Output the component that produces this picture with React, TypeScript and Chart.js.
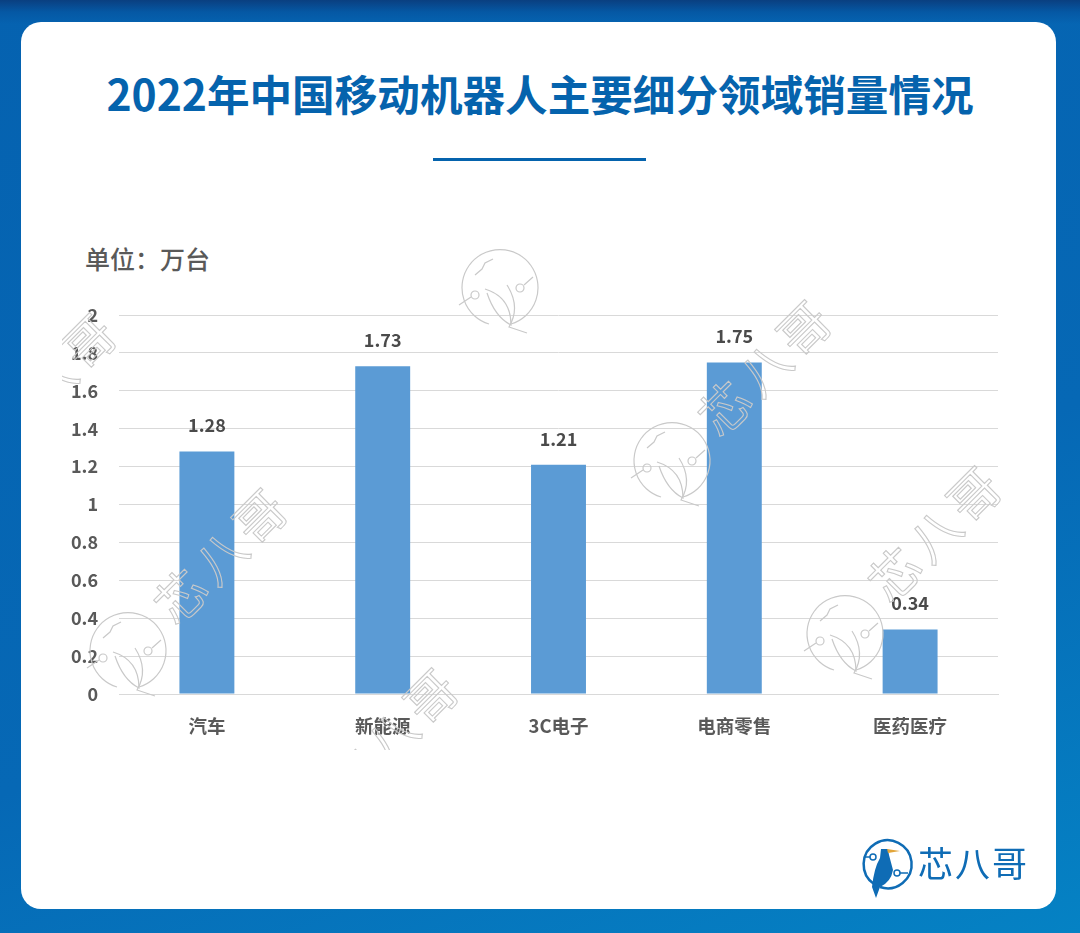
import { useEffect, useRef } from "react";
import { Chart, registerables } from "chart.js";

Chart.register(...registerables);

const categories = ["汽车", "新能源", "3C电子", "电商零售", "医药医疗"];
const salesValues = [1.28, 1.73, 1.21, 1.75, 0.34];
const yTickLabels = ["0", "0.2", "0.4", "0.6", "0.8", "1", "1.2", "1.4", "1.6", "1.8", "2"];
const yMax = 2;
const yStep = 0.2;

const font = '"Noto Sans CJK SC", "Noto Sans", sans-serif';
const barColor = "#5b9bd5";
const brandBlue = "#0563ad";
const logoBlue = "#0f6cb5";

const valueLabels = {
  id: "valueLabels",
  afterDatasetsDraw(chart: Chart) {
    const { ctx } = chart;
    ctx.save();
    ctx.font = `700 18px ${font}`;
    ctx.fillStyle = "#4a4a4a";
    ctx.textAlign = "center";
    ctx.textBaseline = "middle";
    chart.getDatasetMeta(0).data.forEach((bar, i) => {
      ctx.fillText(String(salesValues[i]), bar.x, bar.y - 26);
    });
    ctx.restore();
  },
};

function WatermarkLogo({ x, y }: { x: number; y: number }) {
  return (
    <g transform={`translate(${x} ${y})`} fill="none" stroke="#c9c9c9" strokeWidth="1.2">
      <path d="M14 37 A38 38 0 1 0 -8 37" />
      <circle cx="-22" cy="8" r="4" />
      <circle cx="23" cy="1" r="4" />
      <path d="M-38 18 L-26 10 M27 -2 L36 -10" />
      <path d="M-22 -12 L-15 -18 L-12 -24 L-4 -28" />
      <path d="M-12 2 Q14 10 14 38 Q-2 30 -10 6" />
      <path d="M10 -2 Q24 20 12 40 L30 46" />
    </g>
  );
}

function WatermarkText({ x, y }: { x: number; y: number }) {
  return (
    <text
      transform={`translate(${x} ${y}) rotate(-45)`}
      textAnchor="middle"
      fontFamily={font}
      fontSize="50"
      letterSpacing="6"
      fill="none"
      stroke="#c9c9c9"
      strokeWidth="1.1"
    >
      芯八哥
    </text>
  );
}

export default function App() {
  const canvasRef = useRef<HTMLCanvasElement>(null);

  useEffect(() => {
    if (!canvasRef.current) return;

    const chart = new Chart(canvasRef.current, {
      type: "bar",
      data: {
        labels: categories,
        datasets: [
          {
            data: salesValues,
            backgroundColor: barColor,
            categoryPercentage: 1,
            barPercentage: 0.3125,
          },
        ],
      },
      options: {
        animation: false,
        responsive: false,
        layout: { padding: { left: 19, right: 82, top: 315, bottom: 179 } },
        plugins: { legend: { display: false }, tooltip: { enabled: false } },
        scales: {
          x: {
            grid: { display: false },
            border: { color: "#d9d9d9", width: 1 },
            ticks: {
              color: "#595959",
              font: { family: font, size: 18.5, weight: 700 },
              padding: 13,
              maxRotation: 0,
            },
            afterFit: (scale) => {
              scale.height = 60;
              scale.paddingLeft = 0;
              scale.paddingRight = 0;
            },
          },
          y: {
            min: 0,
            max: yMax,
            grid: { color: "#d9d9d9", drawTicks: false },
            border: { display: false },
            ticks: {
              stepSize: yStep,
              color: "#595959",
              font: { family: font, size: 18, weight: 700 },
              padding: 21,
              callback: (_value, index) => yTickLabels[index],
            },
            afterFit: (scale) => {
              scale.width = 100;
              scale.paddingTop = 0;
              scale.paddingBottom = 0;
            },
          },
        },
      },
      plugins: [valueLabels],
    });

    return () => {
      chart.destroy();
    };
  }, []);

  return (
    <div
      style={{
        position: "absolute",
        left: 0,
        top: 0,
        width: 1080,
        height: 933,
        overflow: "hidden",
        fontFamily: font,
        background:
          "linear-gradient(180deg, #0a3f80 0px, #0558a4 12px, transparent 24px), linear-gradient(160deg, #0562b0 0%, #0668b5 60%, #0582c4 100%)",
      }}
    >
      <div
        style={{
          position: "absolute",
          left: 21,
          top: 22,
          width: 1035,
          height: 887,
          borderRadius: 20,
          background: "#fff",
        }}
      />
      <div
        style={{
          position: "absolute",
          left: 0,
          width: 1080,
          top: 63,
          textAlign: "center",
          fontSize: 42.6,
          lineHeight: "60px",
          fontWeight: 700,
          color: brandBlue,
        }}
      >
        2022年中国移动机器人主要细分领域销量情况
      </div>
      <div
        style={{ position: "absolute", left: 433, top: 158, width: 213, height: 3, background: brandBlue }}
      />
      <div
        style={{
          position: "absolute",
          left: 85,
          top: 240,
          fontSize: 25,
          lineHeight: "36px",
          fontWeight: 500,
          color: "#595959",
        }}
      >
        单位：万台
      </div>
      <canvas ref={canvasRef} width={1080} height={933} style={{ position: "absolute", left: 0, top: 0 }} />
      <svg width={1080} height={933} style={{ position: "absolute", left: 0, top: 0 }}>
        <defs>
          <clipPath id="watermark-area">
            <rect x={62} y={230} width={960} height={520} />
          </clipPath>
        </defs>
        <WatermarkLogo x={125} y={650} />
        <WatermarkLogo x={497} y={287} />
        <WatermarkLogo x={669} y={460} />
        <WatermarkLogo x={842} y={633} />
        <g clipPath="url(#watermark-area)">
          <WatermarkText x={236} y={568} />
          <WatermarkText x={65} y={393} />
          <WatermarkText x={407} y={748} />
          <WatermarkText x={780} y={380} />
          <WatermarkText x={950} y={546} />
        </g>
        <g transform="translate(886 864)">
          <path d="M-12 20 A24 24 0 1 1 -6 23" fill="none" stroke={logoBlue} strokeWidth="2.5" />
          <path
            d="M-5 -15 L2 -15 L3 -9 L7 6 Q5 18 -6 23 L-10 34 L-14 23 Q-12 4 -6 -6 Z"
            fill={logoBlue}
          />
          <path d="M1 -15 L14 -13 L2 -11 Z" fill="#e2a53a" />
          <path d="M-22 -7 L-13 -7 M11 9 L22 9" stroke={logoBlue} strokeWidth="1.5" />
          <circle cx="-13" cy="-7" r="3" fill="#fff" stroke={logoBlue} strokeWidth="1.5" />
          <circle cx="11" cy="9" r="3" fill="#fff" stroke={logoBlue} strokeWidth="1.5" />
        </g>
        <text x={918} y={877} fontFamily={font} fontSize="35" fontWeight="400" letterSpacing="2" fill={logoBlue}>
          芯八哥
        </text>
      </svg>
    </div>
  );
}
